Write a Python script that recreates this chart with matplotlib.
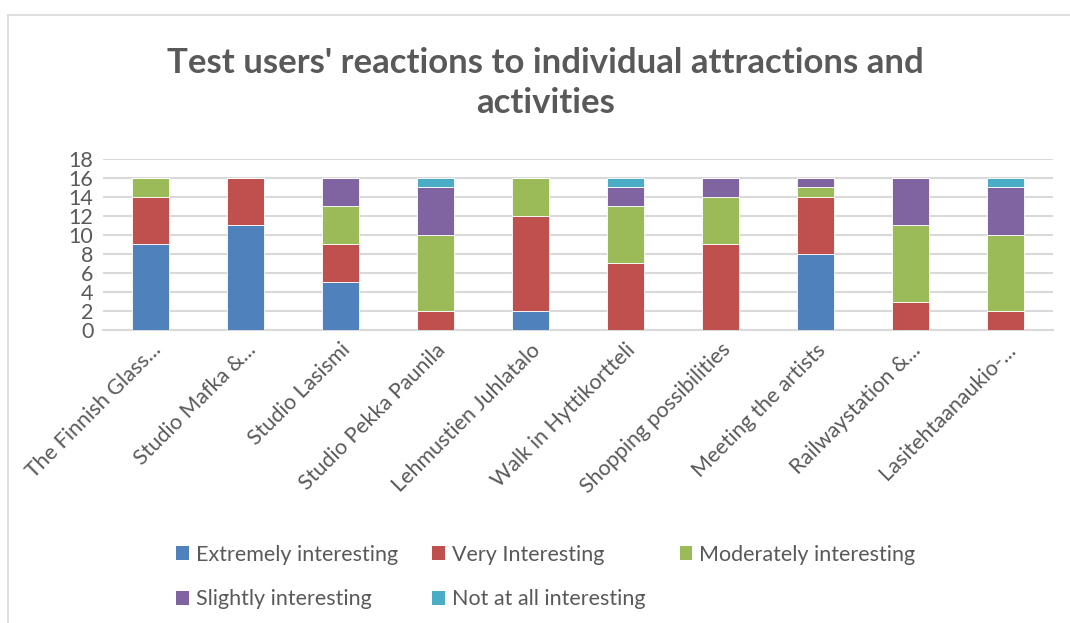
import numpy as np
import matplotlib
matplotlib.use('Agg')
import matplotlib.pyplot as plt
from matplotlib.lines import Line2D
from matplotlib.patches import Patch

plt.rcParams['font.family'] = ['Lato', 'DejaVu Sans']

categories = ['The Finnish Glass...', 'Studio Mafka &...', 'Studio Lasismi',
              'Studio Pekka Paunila', 'Lehmustien Juhlatalo', 'Walk in Hyttikortteli',
              'Shopping possibilities', 'Meeting the artists', 'Railwaystation &...',
              'Lasitehtaanaukio-...']

extremely = [9, 11, 5, 0, 2, 0, 0, 8, 0, 0]
very = [5, 5, 4, 2, 10, 7, 9, 6, 3, 2]
moderately = [2, 0, 4, 8, 4, 6, 5, 1, 8, 8]
slightly = [0, 0, 3, 5, 0, 2, 2, 1, 5, 5]
not_at_all = [0, 0, 0, 1, 0, 1, 0, 0, 0, 1]

series = ['Extremely interesting', 'Very Interesting', 'Moderately interesting',
          'Slightly interesting', 'Not at all interesting']
colors = ['#4F81BD', '#C0504D', '#9BBB59', '#8064A2', '#4BACC6']

text_col = '#595959'

fig = plt.figure(figsize=(10.7, 6.23), dpi=100)
ax = fig.add_axes([0.0963, 0.4703, 0.8877, 0.2745])

x = np.arange(len(categories))
bottom = np.zeros(len(categories))
for vals, col in zip([extremely, very, moderately, slightly, not_at_all], colors):
    vals = np.array(vals, dtype=float)
    ax.bar(x, vals, 0.39, bottom=bottom, color=col, edgecolor='white', linewidth=0.6, zorder=3)
    bottom += vals

ax.set_xlim(-0.5, len(categories) - 0.5)
ax.set_ylim(0, 18)
ax.set_yticks(np.arange(0, 19, 2))
ax.yaxis.grid(True, color='#d9d9d9', linewidth=1.5, zorder=0)
ax.set_axisbelow(True)
for s in ['top', 'right', 'left']:
    ax.spines[s].set_visible(False)
ax.spines['bottom'].set_color('#d9d9d9')
ax.spines['bottom'].set_linewidth(1.5)
ax.tick_params(axis='both', length=0, labelsize=15.5, colors=text_col, pad=7)
ax.set_xticks(x)
ax.set_xticklabels(categories, rotation=45, ha='right', rotation_mode='anchor')

fig.text(0.51, 0.867, "Test users' reactions to individual attractions and\nactivities",
         ha='center', va='center', fontsize=25, fontweight='bold', color=text_col,
         linespacing=1.33)

handles = [Patch(facecolor=c) for c in colors]
order = [0, 3, 1, 4, 2]
leg = fig.legend([handles[i] for i in order], [series[i] for i in order],
                 ncol=3, loc='center', bbox_to_anchor=(0.51, 0.074), frameon=False,
                 fontsize=15.5, handlelength=0.6, handleheight=0.6, handletextpad=0.3,
                 columnspacing=1.6, labelspacing=1.15)
for t in leg.get_texts():
    t.set_color(text_col)

fig.add_artist(Line2D([8 / 1070, 1], [1 - 15 / 623, 1 - 15 / 623], color='#d9d9d9', linewidth=1.2))
fig.add_artist(Line2D([8 / 1070, 8 / 1070], [0, 1 - 15 / 623], color='#d9d9d9', linewidth=1.2))

fig.savefig('out.png', dpi=100)
